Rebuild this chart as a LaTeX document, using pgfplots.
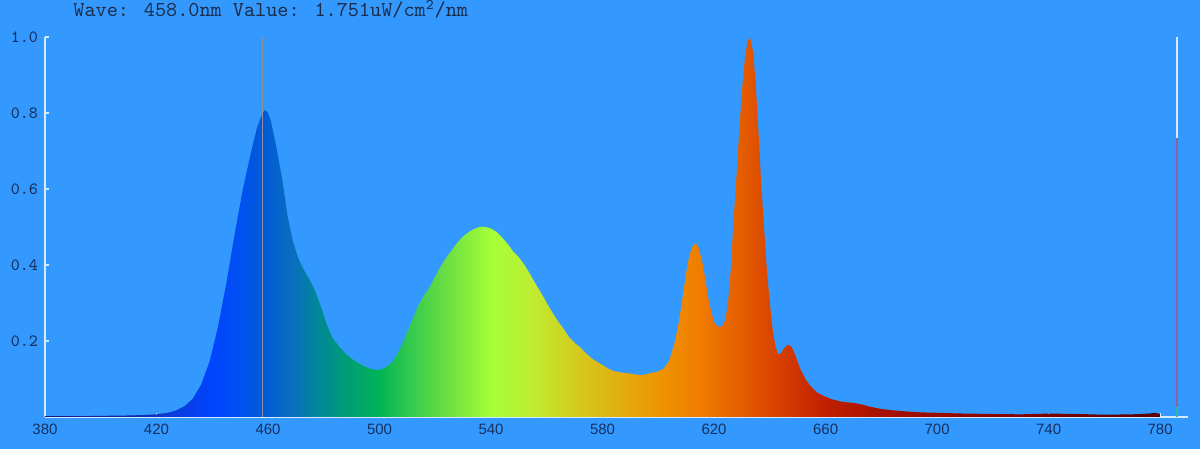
\documentclass[border=0pt]{standalone}
\usepackage{fontspec}
\usepackage{pgfplots}
\pgfplotsset{compat=1.18}
\newfontfamily\xsans{Liberation Sans}
\definecolor{bgc}{HTML}{3399FF}
\definecolor{axisw}{HTML}{D6EAFF}
\definecolor{labc}{HTML}{15305E}
\definecolor{titc}{HTML}{1C2C48}
\definecolor{c380}{HTML}{1A1A7A}
\definecolor{c410}{HTML}{102A9A}
\definecolor{c425}{HTML}{0A3AD8}
\definecolor{c440}{HTML}{0044FF}
\definecolor{c450}{HTML}{0050F0}
\definecolor{c458}{HTML}{005AD8}
\definecolor{c468}{HTML}{0A6CC0}
\definecolor{c478}{HTML}{008898}
\definecolor{c490}{HTML}{00A070}
\definecolor{c500}{HTML}{00B454}
\definecolor{c510}{HTML}{30C850}
\definecolor{c525}{HTML}{70E040}
\definecolor{c540}{HTML}{A4FF38}
\definecolor{c555}{HTML}{C0EC30}
\definecolor{c570}{HTML}{D4CC1C}
\definecolor{c585}{HTML}{E0B010}
\definecolor{c600}{HTML}{EE9400}
\definecolor{c615}{HTML}{F07C00}
\definecolor{c630}{HTML}{E45C00}
\definecolor{c645}{HTML}{D43C00}
\definecolor{c660}{HTML}{C02000}
\definecolor{c680}{HTML}{A81000}
\definecolor{c720}{HTML}{8C0400}
\definecolor{c780}{HTML}{580000}
\pgfdeclarehorizontalshading{spectrum}{100bp}{%
color(0bp)=(c380); color(25bp)=(c380); color(28.75bp)=(c410); color(30.625bp)=(c425);
color(32.5bp)=(c440); color(33.75bp)=(c450); color(34.75bp)=(c458); color(36bp)=(c468);
color(37.25bp)=(c478); color(38.75bp)=(c490); color(40bp)=(c500); color(41.25bp)=(c510);
color(43.125bp)=(c525); color(45bp)=(c540); color(46.875bp)=(c555); color(48.75bp)=(c570);
color(50.625bp)=(c585); color(52.5bp)=(c600); color(54.375bp)=(c615); color(56.25bp)=(c630);
color(58.125bp)=(c645); color(60bp)=(c660); color(62.5bp)=(c680); color(67.5bp)=(c720);
color(75bp)=(c780); color(100bp)=(c780)}
\begin{document}
\begin{tikzpicture}
\path[use as bounding box, fill=bgc] (0,0) rectangle (600pt,224.5pt);
\node[anchor=base west, text=titc, font=\ttfamily\fontsize{10.6}{12}\selectfont, inner sep=0pt] at (36.5pt,216pt) {Wave: 458.0nm Value: 1.751uW/cm\textsuperscript{2}/nm};
\begin{axis}[
 at={(22.5pt,16pt)}, anchor=south west,
 scale only axis, width=571.5pt, height=190pt,
 xmin=380, xmax=790, ymin=0, ymax=1,
 axis lines*=left, axis line style={draw=axisw, line width=0.8pt, -},
 xtick={380,420,460,500,540,580,620,660,700,740,780},
 xticklabels={380,420,460,500,540,580,620,660,700,740,780},
 ytick={0.2,0.4,0.6,0.8,1.0},
 yticklabels={0.2,0.4,0.6,0.8,1.0},
 tick align=inside, major tick length=2pt,
 tick style={draw=axisw, line width=0.6pt},
 xticklabel style={font=\xsans\fontsize{7.5}{8}\selectfont, text=labc},
 yticklabel style={font=\ttfamily\fontsize{8.6}{10}\selectfont, text=labc},
]
\addplot[draw=none, shade, shading=spectrum] coordinates {
(380,0.002)(390,0.002)(400,0.003)(410,0.004)(415,0.005)(420,0.007)(424,0.011)(427,0.017)(430,0.028)(433,0.048)(436,0.085)(439,0.145)(442,0.235)(445,0.35)(448,0.48)(451,0.60)(454,0.70)(456,0.76)(458,0.80)(459,0.808)(460,0.80)(461,0.78)(463,0.71)(465,0.63)(467,0.53)(469,0.46)(471,0.415)(473,0.385)(475,0.36)(477,0.33)(479,0.29)(481,0.245)(483,0.21)(485,0.19)(488,0.165)(491,0.148)(494,0.135)(497,0.126)(500,0.124)(502,0.13)(504,0.14)(506,0.16)(508,0.19)(510,0.225)(512,0.26)(514,0.295)(516,0.32)(518,0.342)(520,0.37)(522,0.397)(524,0.42)(526,0.44)(528,0.46)(530,0.475)(532,0.487)(534,0.495)(536,0.50)(538,0.50)(540,0.496)(542,0.487)(544,0.472)(546,0.455)(548,0.435)(550,0.42)(552,0.40)(554,0.376)(556,0.35)(558,0.326)(560,0.30)(562,0.275)(564,0.252)(566,0.232)(568,0.21)(570,0.195)(572,0.183)(574,0.168)(576,0.155)(578,0.145)(580,0.137)(582,0.127)(584,0.121)(586,0.118)(588,0.116)(590,0.114)(592,0.112)(594,0.11)(596,0.113)(598,0.117)(600,0.12)(602,0.128)(604,0.15)(605,0.175)(606,0.20)(607,0.235)(608,0.28)(609,0.33)(610,0.38)(611,0.42)(612,0.445)(613,0.455)(614,0.455)(615,0.43)(616,0.40)(617,0.355)(618,0.31)(619,0.275)(620,0.25)(621,0.24)(622,0.237)(623,0.24)(624,0.255)(625,0.3)(626,0.39)(627,0.52)(628,0.63)(629,0.75)(630,0.86)(631,0.94)(632,0.99)(633,0.997)(634,0.96)(635,0.87)(636,0.74)(637,0.60)(638,0.49)(639,0.38)(640,0.30)(641,0.23)(642,0.185)(643,0.165)(644,0.168)(645,0.18)(646,0.188)(647,0.19)(648,0.182)(649,0.165)(650,0.145)(651,0.125)(653,0.097)(655,0.078)(657,0.064)(660,0.053)(663,0.045)(666,0.04)(670,0.037)(673,0.033)(676,0.027)(680,0.021)(685,0.017)(690,0.014)(695,0.012)(700,0.011)(710,0.009)(720,0.008)(730,0.007)(740,0.009)(750,0.008)(760,0.006)(770,0.007)(776,0.009)(778,0.011)(780,0.008)
} \closedcycle;
\addplot[draw={rgb,255:red,145;green,145;blue,155}, line width=0.9pt] coordinates {(458,0)(458,1)};
\addplot[draw=axisw, line width=1pt] coordinates {(786,0.734)(786,1)};
\addplot[draw={rgb,255:red,145;green,95;blue,165}, line width=1pt] coordinates {(786,0.025)(786,0.734)};
\addplot[draw={rgb,255:red,30;green,190;blue,170}, line width=1pt] coordinates {(786,0)(786,0.025)};
\end{axis}
\end{tikzpicture}
\end{document}
